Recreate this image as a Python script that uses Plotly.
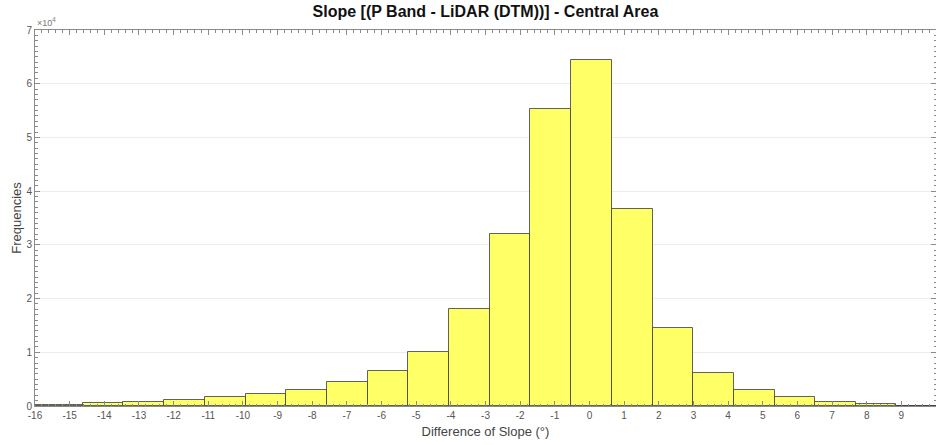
import plotly.graph_objects as go

# Histogram of slope differences (degrees) between P-band and LiDAR DTM
bin_edges = [-16.97, -15.79, -14.62, -13.45, -12.27, -11.10, -9.92, -8.75,
             -7.58, -6.40, -5.23, -4.05, -2.88, -1.71, -0.53, 0.64, 1.82,
             2.99, 4.16, 5.34, 6.51, 7.69, 8.86, 10.03]
counts = [150, 250, 500, 700, 1100, 1600, 2200, 3000, 4400, 6500, 10100,
          18000, 32100, 55300, 64400, 36600, 14550, 6100, 2900, 1600, 700,
          300, 80]

x_ticks = list(range(-16, 11))
y_ticks = [0, 10000, 20000, 30000, 40000, 50000, 60000, 70000]
y_tick_labels = ["0", "1", "2", "3", "4", "5", "6", "7"]

centers = [(a + b) / 2 for a, b in zip(bin_edges[:-1], bin_edges[1:])]
widths = [b - a for a, b in zip(bin_edges[:-1], bin_edges[1:])]

axis_col = "#8a8a8a"
tick_font = dict(family="Liberation Sans, Arial, sans-serif", size=10, color="#555555")

fig = go.Figure(go.Bar(
    x=centers, y=counts, width=widths,
    marker=dict(color="rgb(255,255,102)",
                line=dict(color="rgba(60,60,60,0.8)", width=1)),
    hoverinfo="x+y",
))

fig.update_layout(
    width=936, height=445,
    margin=dict(l=35, r=0, t=30, b=39),
    paper_bgcolor="white", plot_bgcolor="white",
    showlegend=False, bargap=0,
    title=dict(text="<b>Slope [(P Band - LiDAR (DTM))] - Central Area</b>",
               x=0.5, xref="paper", y=0.975, yanchor="middle",
               font=dict(family="Liberation Sans, Arial, sans-serif", size=16, color="#111111")),
    font=dict(family="Liberation Sans, Arial, sans-serif"),
)

fig.update_xaxes(
    range=[-16, 10], tickvals=x_ticks, ticktext=[str(v) for v in x_ticks],
    showgrid=False, zeroline=False,
    showline=True, linecolor=axis_col, linewidth=1, mirror="ticks",
    ticks="inside", ticklen=5, tickcolor=axis_col,
    minor=dict(dtick=0.2, tick0=0, ticks="inside", ticklen=2.5, tickcolor=axis_col),
    tickfont=tick_font,
    title=dict(text="Difference of Slope (°)", standoff=6,
               font=dict(family="Liberation Sans, Arial, sans-serif", size=13, color="#444444")),
)

fig.update_yaxes(
    range=[0, 70000], tickvals=y_ticks, ticktext=y_tick_labels,
    showgrid=True, gridcolor="#ececec", gridwidth=1, zeroline=False,
    showline=True, linecolor=axis_col, linewidth=1, mirror="ticks",
    ticks="inside", ticklen=5, tickcolor=axis_col,
    minor=dict(dtick=1000, tick0=0, ticks="inside", ticklen=2.5, tickcolor=axis_col,
               showgrid=False),
    tickfont=tick_font,
    title=dict(text="Frequencies", standoff=1,
               font=dict(family="Liberation Sans, Arial, sans-serif", size=13, color="#444444")),
)

fig.add_annotation(
    text="×10<sup>4</sup>", xref="paper", yref="paper", x=0, y=1,
    xanchor="left", yanchor="bottom", showarrow=False, yshift=0,
    font=dict(family="Liberation Sans, Arial, sans-serif", size=9, color="#777777"),
)

fig.write_html("out.html")
